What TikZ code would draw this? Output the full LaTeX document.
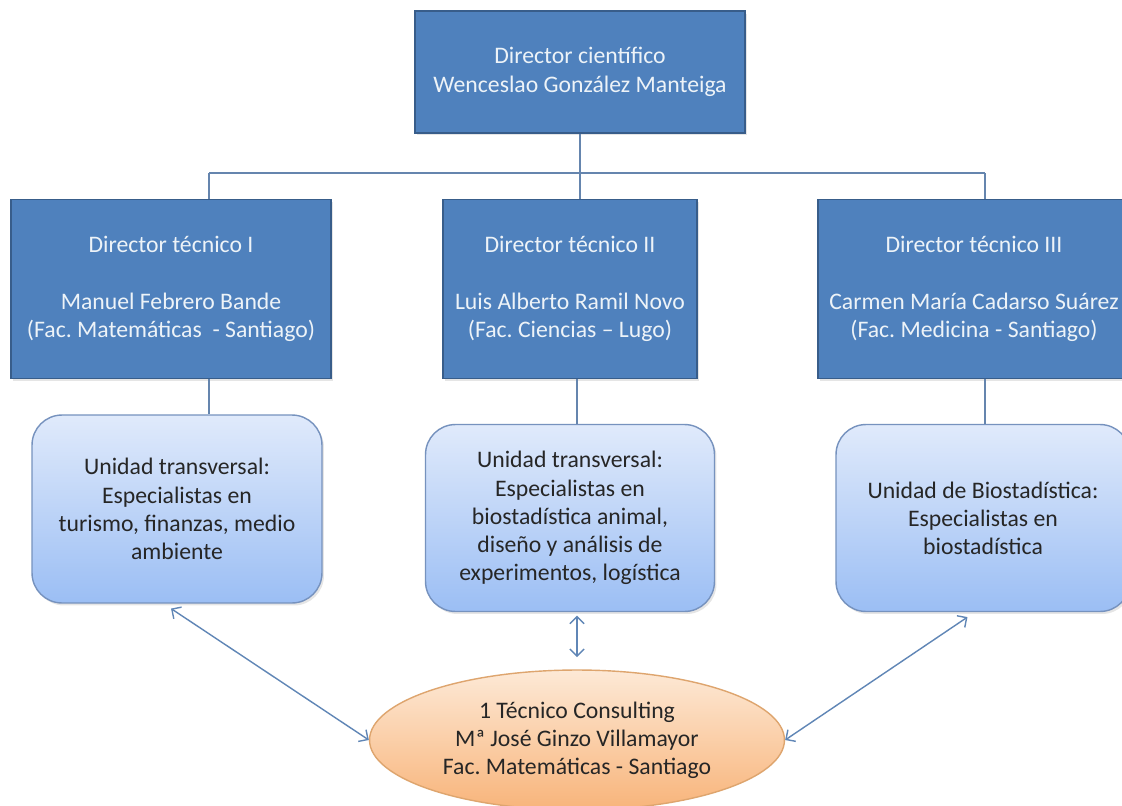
\documentclass[tikz,border=0pt]{standalone}
\usepackage{fontspec}
\setmainfont{Carlito}
\frenchspacing
\usetikzlibrary{shapes.geometric,shadows,arrows.meta}
\definecolor{boxblue}{RGB}{79,129,189}
\definecolor{boxedge}{RGB}{56,93,138}
\definecolor{unitedge}{RGB}{118,146,190}
\definecolor{unittop}{RGB}{224,234,251}
\definecolor{unitbot}{RGB}{155,190,244}
\definecolor{ovaledge}{RGB}{222,165,110}
\definecolor{ovaltop}{RGB}{253,233,214}
\definecolor{ovalbot}{RGB}{248,180,122}
\definecolor{linkcol}{RGB}{96,134,182}
\tikzstyle{director} = [rectangle,draw=boxedge,line width=1.1pt,fill=boxblue,text=white!90!boxblue,align=center,font=\fontsize{13.5}{16.2}\selectfont,drop shadow={opacity=0.2,shadow xshift=0.04cm,shadow yshift=-0.05cm}]
\tikzstyle{unit} = [rectangle,rounded corners=0.6cm,draw=unitedge,line width=0.8pt,top color=unittop,bottom color=unitbot,text=black!85,align=center,font=\fontsize{13.5}{16}\selectfont,drop shadow={opacity=0.2,shadow xshift=0.04cm,shadow yshift=-0.05cm}]
\tikzstyle{consult} = [ellipse,draw=ovaledge,line width=0.8pt,top color=ovaltop,bottom color=ovalbot,text=black!85,align=center,inner sep=0pt,font=\fontsize{13.5}{16}\selectfont]
\tikzstyle{tree} = [draw=linkcol!85!gray,line width=0.8pt]
\tikzstyle{link} = [{Straight Barb[length=4pt,width=8pt]}-{Straight Barb[length=4pt,width=8pt]},draw=linkcol,line width=0.8pt]

\begin{document}
\begin{tikzpicture}[x=0.02cm,y=-0.02cm]
\useasboundingbox[fill=white] (0,0) rectangle (1122,805);

\node [director,minimum width=6.6cm,minimum height=2.44cm] (dc) at (580,72) {Director científico\\Wenceslao González Manteiga};
\node [director,minimum width=6.4cm,minimum height=3.58cm] (dt1) at (171,289) {Director técnico I\\[16.2pt]Manuel Febrero Bande\\(Fac. Matemáticas~~- Santiago)};
\node [director,minimum width=5.08cm,minimum height=3.58cm] (dt2) at (570,289) {Director técnico II\\[16.2pt]Luis Alberto Ramil Novo\\(Fac. Ciencias – Lugo)};
\node [director,minimum width=6.24cm,minimum height=3.58cm] (dt3) at (974,289) {Director técnico III\\[16.2pt]Carmen María Cadarso Suárez\\(Fac. Medicina - Santiago)};

\node [unit,minimum width=5.8cm,minimum height=3.76cm] (ub1) at (177,509) {Unidad transversal:\\Especialistas en\\turismo, finanzas, medio\\ambiente};
\node [unit,minimum width=5.78cm,minimum height=3.74cm] (ub2) at (570,518) {Unidad transversal:\\Especialistas en\\biostadística animal,\\diseño y análisis de\\experimentos, logística};
\node [unit,minimum width=5.88cm,minimum height=3.74cm] (ub3) at (983,518) {Unidad de Biostadística:\\Especialistas en\\biostadística};

\node [consult,minimum width=8.3cm,minimum height=2.8cm] (ct) at (577,740) {1 Técnico Consulting\\Mª José Ginzo Villamayor\\Fac. Matemáticas - Santiago};

\coordinate (j1) at (209,173);
\coordinate (j3) at (985,173);

\draw[tree] (j1) -- (j3);
\draw[tree] (dc.south) -- (dc.south |- dt2.north);
\draw[tree] (j1) -- (j1 |- dt1.north);
\draw[tree] (j3) -- (j3 |- dt3.north);
\draw[tree] (dt1.south -| j1) -- (ub1.north -| j1);
\draw[tree] (dt2.south -| ct.north) -- (ub2.north -| ct.north);
\draw[tree] (dt3.south -| j3) -- (ub3.north -| j3);

\draw[link,shorten <=5pt] (ub1.-98) -- (ct.west);
\draw[link,shorten <=2pt,shorten >=7pt] (ub2.south -| ct.north) -- (ct.north);
\draw[link,shorten <=5pt] (ub3.-95) -- (ct.east);

\end{tikzpicture}
\end{document}
